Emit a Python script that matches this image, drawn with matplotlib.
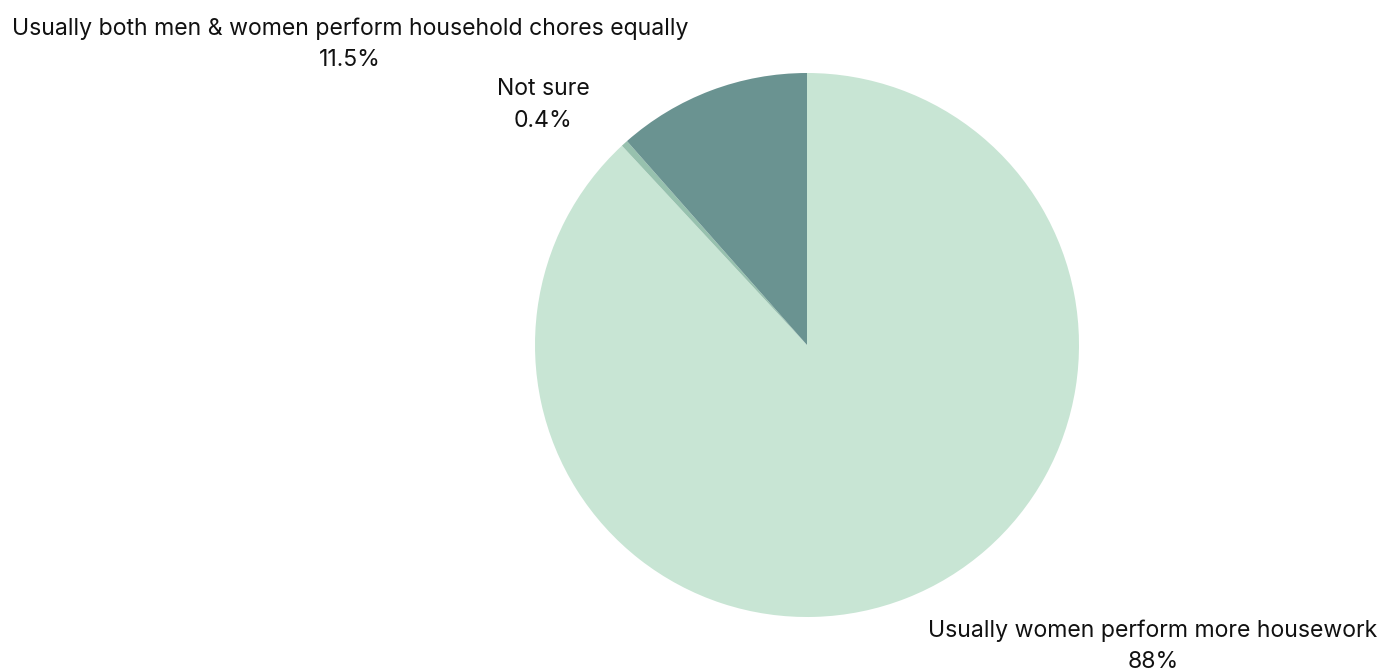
import matplotlib.pyplot as plt

labels = ["Usually women perform more housework", "Not sure",
          "Usually both men & women perform household chores equally"]
values = [88, 0.4, 11.5]
pct_text = ["88%", "0.4%", "11.5%"]
colors = ["#c8e5d4", "#97c1ae", "#6a9391"]

plt.rcParams['font.family'] = ['Inter', 'DejaVu Sans']

W, H = 1399, 672
fig = plt.figure(figsize=(W / 100, H / 100), dpi=100)
cx, cy, r = 807, 345, 272
ax = fig.add_axes([(cx - r) / W, (H - cy - r) / H, 2 * r / W, 2 * r / H])
ax.pie(values, colors=colors, startangle=90, counterclock=False,
       wedgeprops=dict(linewidth=0))
ax.set_xlim(-1, 1)
ax.set_ylim(-1, 1)
ax.set_aspect('equal')
ax.axis('off')

# label positions in pixels (centre of the two-line block)
label_pos = [(1153, 646), (543, 105), (350, 44)]
for lab, pct, (x, y) in zip(labels, pct_text, label_pos):
    fig.text(x / W, 1 - y / H, lab + "\n" + pct, ha='center', va='center',
             fontsize=16.6, color='#111111', linespacing=1.55)

fig.savefig("out.png", dpi=100)
